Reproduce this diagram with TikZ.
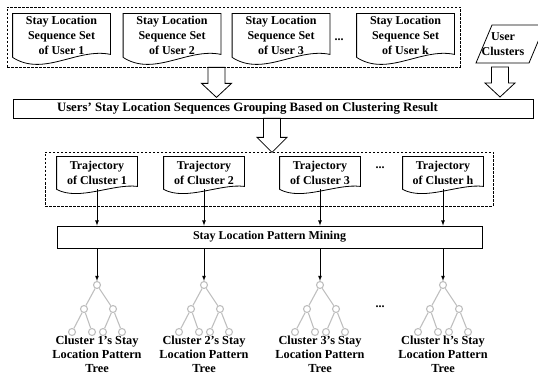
\documentclass[tikz,border=0pt]{standalone}
\usepackage{fontspec}
\setmainfont{Liberation Serif}

% document symbol with a wavy bottom drawn round a node
\newcommand{\docwave}[3]{%
  \draw (#1.south west) -- (#1.north west) -- (#1.north east) -- ([yshift=3pt]#1.south east)
     .. controls ([xshift=16pt,yshift=#2pt]#1.south) and ([xshift=-18pt,yshift=-#3pt]#1.south) .. (#1.south west);}
% hollow block arrow pointing down: top point, shaft length, head length
\newcommand{\fatarrow}[3]{%
  \draw[fill=white] (#1) ++(-8.5,0) -- ++(17,0) -- ++(0,#2) -- ++(6.5,0) -- ++(-15,#3)
     -- ++(-15,-#3) -- ++(6.5,0) -- cycle;}

\begin{document}
\begin{tikzpicture}[x=1pt,y=-1pt,line width=0.8pt,
    txt/.style={font=\bfseries\fontsize{12}{15}\selectfont,align=center},
    treecap/.style={font=\bfseries\fontsize{12.3}{14}\selectfont,align=center},
    doc/.style={txt,minimum width=97pt,minimum height=43pt,inner sep=0pt},
    trj/.style={txt,minimum width=80pt,minimum height=32pt,inner sep=0pt},
    bar/.style={draw,inner sep=0pt},
    dashbox/.style={draw,dash pattern=on 2.5pt off 1.5pt,inner sep=0pt},
    leaf/.style={circle,draw=black!25,line width=1.1pt,fill=white,minimum size=7pt,inner sep=0pt},
    branch/.style={draw=black!25,line width=1.1pt},
    flow/.style={-latex}]
  \useasboundingbox (0,0) rectangle (538,374);

  % sequence sets of the users
  \node[dashbox,minimum width=453pt,minimum height=60pt] (users) at (233.5,37) {};
  \node[doc] (u1) at (61.5,35.5) {Stay Location\\Sequence Set\\of User 1};
  \node[doc] (u2) at (172,35.5) {Stay Location\\Sequence Set\\of User 2};
  \node[doc] (u3) at (281,35.5) {Stay Location\\Sequence Set\\of User 3};
  \node[doc] (uk) at (405.5,35.5) {Stay Location\\Sequence Set\\of User k};
  \foreach \d in {u1,u2,u3,uk} {\docwave{\d}{10}{20}}
  \node[txt] (udots) at (339,40) {...};

  % user clusters
  \node[txt] (uc) at (503,44) {User\\Clusters};
  \draw (476,63) -- (492,25) -- (545,25) -- (529,63) -- cycle;

  % grouping
  \node[bar,minimum width=520pt,minimum height=19pt] (grp) at (273,108.5) {};
  \node[txt,font=\bfseries\fontsize{12.8}{15}\selectfont] (grptext) at ([xshift=-25.5pt]grp.center)
    {Users' Stay Location Sequences Grouping Based on Clustering Result};
  \fatarrow{[xshift=-17pt]users.south}{16}{14}
  \fatarrow{500,67}{16}{14}
  \fatarrow{[xshift=-1pt]grp.south}{19}{15}

  % trajectories of the clusters
  \node[dashbox,minimum width=448pt,minimum height=54pt] (trjs) at (269,179) {};
  \node[txt] (tdots) at (380,168) {...};
  \node[bar,txt,minimum width=425pt,minimum height=22pt] (mine) at (269.5,237) {Stay Location Pattern Mining};

  \foreach \x/\n in {97/1,204/2,320/3,443/h} {
    \node[trj] (t\n) at (\x,173) {Trajectory\\of Cluster \n};
    \docwave{t\n}{6}{12}
    \draw[flow] (t\n) -- (t\n |- mine.north);
    % pattern tree
    \node[leaf] (r\n) at (\x,285) {};
    \node[leaf] (a\n) at (\x-13,309) {};
    \node[leaf] (b\n) at (\x+16,309) {};
    \node[leaf] (a\n1) at (\x-25,332) {};
    \node[leaf] (a\n2) at (\x-5,332) {};
    \node[leaf] (b\n1) at (\x+6,332) {};
    \node[leaf] (b\n2) at (\x+25,332) {};
    \draw[branch] (r\n) -- (a\n) (r\n) -- (b\n) (a\n) -- (a\n1) (a\n) -- (a\n2)
      (b\n) -- (b\n1) (b\n) -- (b\n2);
    \draw[flow] (mine.south -| r\n) -- (r\n);
    \node[treecap] (c\n) at (\x,354) {Cluster \n's Stay\\Location Pattern\\Tree};
  }
  \node[txt] (cdots) at (380,307) {...};
\end{tikzpicture}
\end{document}
